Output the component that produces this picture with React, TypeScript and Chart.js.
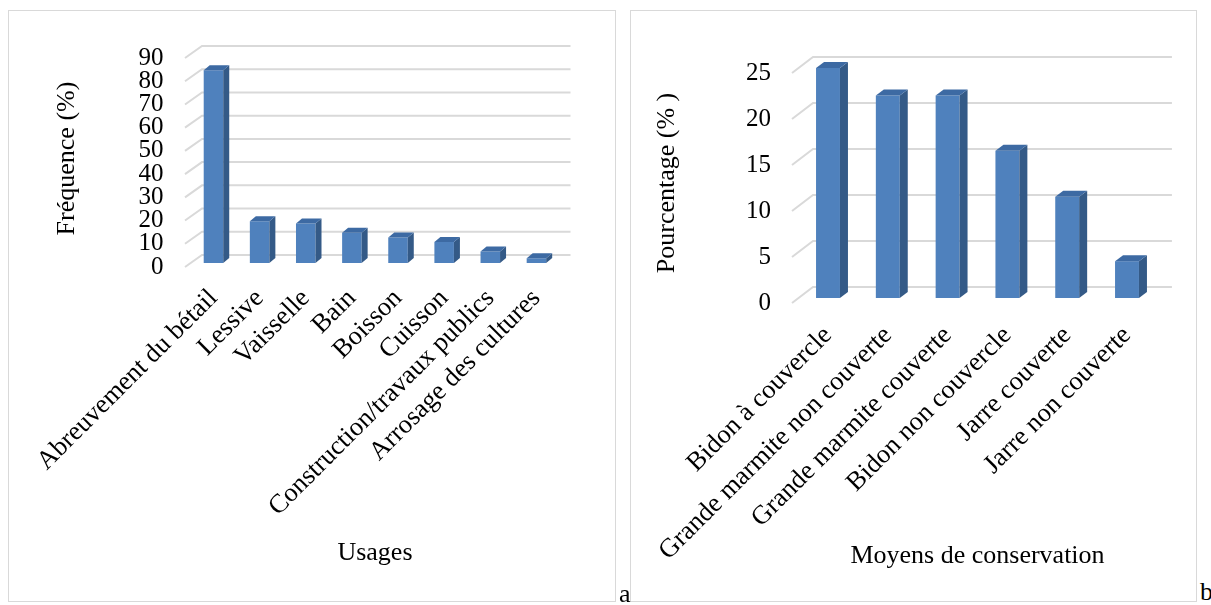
import React, { useEffect, useRef } from 'react';
import { Chart, registerables } from 'chart.js';

Chart.register(...registerables);

// ---- Data ----
const usageCategories = [
  'Abreuvement du bétail',
  'Lessive',
  'Vaisselle',
  'Bain',
  'Boisson',
  'Cuisson',
  'Construction/travaux publics',
  'Arrosage des cultures',
];
const usageValues = [83, 18, 17, 13, 11, 9, 5, 2];
const usageTicks = [0, 10, 20, 30, 40, 50, 60, 70, 80, 90];

const conservationCategories = [
  'Bidon à couvercle',
  'Grande marmite non couverte',
  'Grande marmite couverte',
  'Bidon non couvercle',
  'Jarre couverte',
  'Jarre non couverte',
];
const conservationValues = [25, 22, 22, 16, 11, 4];
const conservationTicks = [0, 5, 10, 15, 20, 25];

const FONT = "'Liberation Serif', 'Times New Roman', serif";
const FRONT = '#4f81bd';
const SIDE = '#345a87';
const TOP = '#3d6aa3';
const GRID = '#d9d9d9';

type Geo = {
  W: number;
  H: number;
  left: number;
  right: number;
  top: number;
  bottom: number;
  frontDx: number;
  frontDy: number;
  backDx: number;
  backDy: number;
  backDxRight: number;
  depthX: number;
  depthY: number;
  barPct: number;
  labelOffset: number;
  yTitlePad: number;
  xTitlePad: number;
  xTickPad: number;
};

function make3D(g: Geo) {
  return {
    id: 'fake3d',
    beforeDatasetsDraw(chart: any) {
      const { ctx, chartArea: a, scales } = chart;
      const y = scales.y;
      ctx.save();
      ctx.strokeStyle = GRID;
      ctx.lineWidth = 2;
      for (const t of y.ticks) {
        const py = y.getPixelForValue(t.value);
        ctx.beginPath();
        ctx.moveTo(a.left + g.frontDx, py + g.frontDy);
        ctx.lineTo(a.left + g.backDx, py + g.backDy);
        ctx.lineTo(a.right + g.backDxRight, py + g.backDy);
        ctx.stroke();
      }
      ctx.restore();
    },
    afterDatasetsDraw(chart: any) {
      const { ctx } = chart;
      const meta = chart.getDatasetMeta(0);
      ctx.save();
      for (const bar of meta.data) {
        const { x, y, base, width } = bar.getProps(['x', 'y', 'base', 'width'], true);
        const l = x - width / 2;
        const r = x + width / 2;
        ctx.fillStyle = SIDE;
        ctx.beginPath();
        ctx.moveTo(r, y);
        ctx.lineTo(r + g.depthX, y - g.depthY);
        ctx.lineTo(r + g.depthX, base - g.depthY);
        ctx.lineTo(r, base);
        ctx.closePath();
        ctx.fill();
        ctx.fillStyle = TOP;
        ctx.beginPath();
        ctx.moveTo(l, y);
        ctx.lineTo(l + g.depthX, y - g.depthY);
        ctx.lineTo(r + g.depthX, y - g.depthY);
        ctx.lineTo(r, y);
        ctx.closePath();
        ctx.fill();
      }
      ctx.restore();
    },
  };
}

function BarChart3D(props: {
  categories: string[];
  values: number[];
  ticks: number[];
  yTitle: string;
  xTitle: string;
  geo: Geo;
  style: React.CSSProperties;
}) {
  const ref = useRef<HTMLCanvasElement | null>(null);
  const { categories, values, ticks, yTitle, xTitle, geo } = props;

  useEffect(() => {
    if (!ref.current) return;
    const chart = new Chart(ref.current, {
      type: 'bar',
      data: {
        labels: categories,
        datasets: [
          {
            data: values,
            backgroundColor: FRONT,
            borderWidth: 0,
            categoryPercentage: 1,
            barPercentage: geo.barPct,
          },
        ],
      },
      options: {
        responsive: false,
        animation: false,
        devicePixelRatio: 1,
        layout: {
          padding: { left: 0, top: geo.top, right: geo.W - geo.right, bottom: 0 },
        },
        plugins: {
          legend: { display: false },
          tooltip: { enabled: false },
        },
        scales: {
          x: {
            grid: { display: false, drawTicks: false },
            border: { display: false },
            ticks: {
              color: '#000',
              font: { family: FONT, size: 26.5 },
              minRotation: 45,
              maxRotation: 45,
              autoSkip: false,
              padding: geo.xTickPad,
            },
            title: {
              display: true,
              text: xTitle,
              color: '#000',
              font: { family: FONT, size: 26 },
              padding: { top: 0, bottom: geo.xTitlePad },
            },
            afterFit: (s: any) => {
              s.height = geo.H - geo.bottom;
            },
          },
          y: {
            min: ticks[0],
            max: ticks[ticks.length - 1],
            grid: { display: false, drawTicks: false },
            border: { display: false },
            ticks: {
              color: '#000',
              font: { family: FONT, size: 25 },
              padding: 27,
              autoSkip: false,
              labelOffset: geo.labelOffset,
            },
            afterBuildTicks: (s: any) => {
              s.ticks = ticks.map((v) => ({ value: v }));
            },
            title: {
              display: true,
              text: yTitle,
              color: '#000',
              font: { family: FONT, size: 26 },
              padding: { top: geo.yTitlePad, bottom: 0 },
            },
            afterFit: (s: any) => {
              s.width = geo.left;
            },
          },
        },
      },
      plugins: [make3D(geo)],
    } as any);
    return () => chart.destroy();
  }, []);

  return (
    <div style={{ position: 'absolute', ...props.style }}>
      <div
        style={{
          position: 'absolute',
          left: 0,
          top: 0,
          width: geo.W,
          height: geo.H,
          boxSizing: 'border-box',
          border: '1.5px solid #d9d9d9',
        }}
      />
      <canvas
        ref={ref}
        width={geo.W}
        height={geo.H}
        style={{ position: 'absolute', left: 0, top: 0, width: geo.W, height: geo.H }}
      />
    </div>
  );
}

const geoA: Geo = {
  W: 608,
  H: 592,
  left: 182.4,
  right: 551.5,
  top: 44,
  bottom: 253,
  frontDx: -5.4,
  frontDy: 4,
  backDx: 11.6,
  backDy: -8,
  backDxRight: 11,
  depthX: 6,
  depthY: 5,
  barPct: 0.423,
  labelOffset: 4,
  yTitlePad: 44,
  xTitlePad: 33,
  xTickPad: 20,
};

const geoB: Geo = {
  W: 567,
  H: 592,
  left: 168.1,
  right: 526.9,
  top: 58,
  bottom: 288,
  frontDx: -6.1,
  frontDy: 5,
  backDx: 14.9,
  backDy: -11,
  backDxRight: 15,
  depthX: 8,
  depthY: 6,
  barPct: 0.4,
  labelOffset: 5,
  yTitlePad: 22,
  xTitlePad: 30,
  xTickPad: 22,
};

export default function App() {
  const letter: React.CSSProperties = {
    position: 'absolute',
    fontFamily: FONT,
    fontSize: 26,
    lineHeight: '26px',
    color: '#000',
  };
  return (
    <div style={{ position: 'absolute', left: 0, top: 0, width: 1211, height: 605, background: '#fff' }}>
      <BarChart3D
        categories={usageCategories}
        values={usageValues}
        ticks={usageTicks}
        yTitle="Fréquence (%)"
        xTitle="Usages"
        geo={geoA}
        style={{ left: 8, top: 10 }}
      />
      <BarChart3D
        categories={conservationCategories}
        values={conservationValues}
        ticks={conservationTicks}
        yTitle="Pourcentage (% )"
        xTitle="Moyens de conservation"
        geo={geoB}
        style={{ left: 630, top: 10 }}
      />
      <span style={{ ...letter, left: 619, top: 581 }}>a</span>
      <span style={{ ...letter, left: 1200, top: 579 }}>b</span>
    </div>
  );
}
